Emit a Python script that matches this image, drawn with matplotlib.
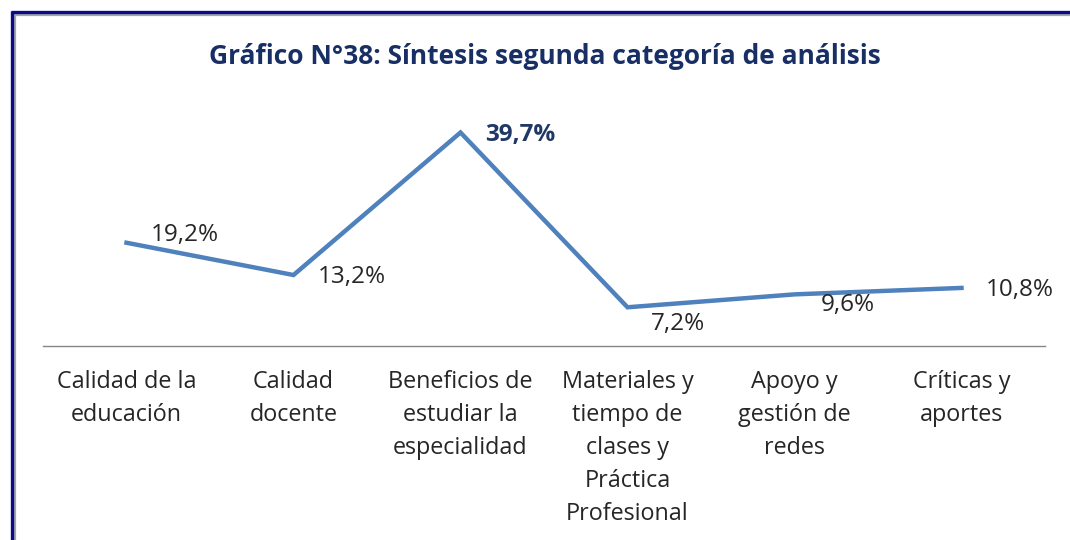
import matplotlib
matplotlib.use("Agg")
import matplotlib.pyplot as plt
from matplotlib.lines import Line2D

# categories and percentages
categorias = [
    "Calidad de la\neducación",
    "Calidad\ndocente",
    "Beneficios de\nestudiar la\nespecialidad",
    "Materiales y\ntiempo de\nclases y\nPráctica\nProfesional",
    "Apoyo y\ngestión de\nredes",
    "Críticas y\naportes",
]
porcentajes = [19.2, 13.2, 39.7, 7.2, 9.6, 10.8]
etiquetas = ["19,2%", "13,2%", "39,7%", "7,2%", "9,6%", "10,8%"]

# label offsets in pixels (right, down) from each point
offsets = [(24, -8), (24, 2), (25, 2), (23, 17), (26, 11), (24, 2)]

W, H = 1070, 540
plt.rcParams["font.family"] = ["Open Sans", "DejaVu Sans"]

fig = plt.figure(figsize=(W / 100, H / 100), dpi=100)
fig.patch.set_facecolor("white")

# frame: dark blue edge with a grey inner shadow (left and top)
def fline(x0, y0, x1, y1, color, lw):
    fig.add_artist(Line2D([x0 / W, x1 / W], [1 - y0 / H, 1 - y1 / H],
                          color=color, lw=lw, transform=fig.transFigure,
                          solid_capstyle="butt"))

fline(14.5, 13.5, 14.5, H, "#a6a6a6", 1.6)
fline(13.5, 14.5, W, 14.5, "#a6a6a6", 1.6)
fline(12, 10.5, 12, H, "#0a0a8c", 2.4)
fline(10.5, 12, W, 12, "#0a0a8c", 2.4)

ax = fig.add_axes([43 / W, 1 - 346 / H, 1002 / W, 242 / H])
x = list(range(len(categorias)))
ax.plot(x, porcentajes, color="#4f81bd", lw=3.2, solid_joinstyle="miter")
ax.set_xlim(-0.5, len(categorias) - 0.5)
ax.set_ylim(0, 45)

for spine in ["top", "right", "left"]:
    ax.spines[spine].set_visible(False)
ax.spines["bottom"].set_color("#868686")
ax.spines["bottom"].set_linewidth(1.0)
ax.set_yticks([])
ax.set_xticks(x)
ax.set_xticklabels(categorias, fontsize=16.8, color="#262626",
                   linespacing=1.5, multialignment="center")
ax.tick_params(axis="x", length=0, pad=17)

for i, (v, t) in enumerate(zip(porcentajes, etiquetas)):
    dx, dy = offsets[i]
    bold = v == max(porcentajes)
    ax.annotate(t, (i, v), xytext=(dx * 0.72, -dy * 0.72),
                textcoords="offset points", ha="left", va="center",
                fontsize=17.5, fontweight="bold" if bold else "normal",
                color="#1f3864" if bold else "#262626")

fig.text(545 / W, 1 - 56 / H, "Gráfico N°38: Síntesis segunda categoría de análisis",
         ha="center", va="center", fontsize=19, fontweight="bold",
         color="#182f66")

fig.savefig("out.png", dpi=100)
